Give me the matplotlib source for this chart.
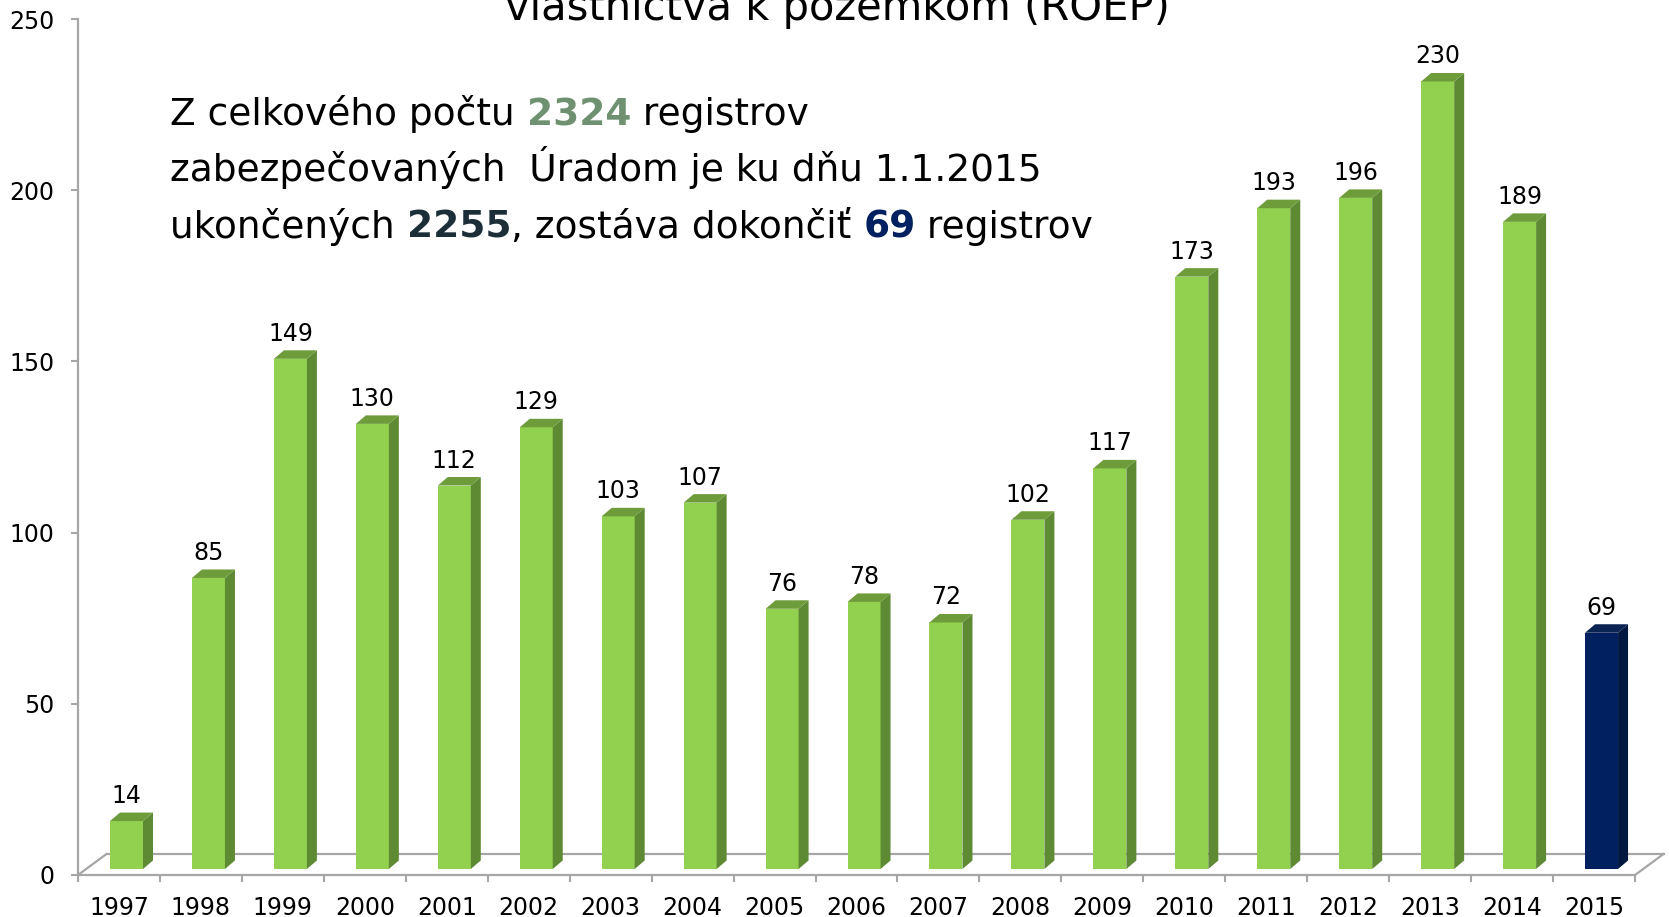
import matplotlib.pyplot as plt
from matplotlib.patches import Polygon

# data
years = ["1997", "1998", "1999", "2000", "2001", "2002", "2003", "2004", "2005", "2006",
         "2007", "2008", "2009", "2010", "2011", "2012", "2013", "2014", "2015"]
values = [14, 85, 149, 130, 112, 129, 103, 107, 76, 78, 72, 102, 117, 173, 193, 196, 230, 189, 69]
y_ticks = [0, 50, 100, 150, 200, 250]

green = ("#92D050", "#5E8A33", "#6E9C3B")   # front, side, top
navy = ("#002060", "#00173F", "#0A2352")
axis_grey = "#A6A6A6"

plt.rcParams['font.family'] = ['DejaVu Sans']

W, H = 1669, 917
fig = plt.figure(figsize=(W / 100, H / 100), dpi=100)
ax = fig.add_axes([78 / W, 1 - 875 / H, (1635 - 78) / W, (875 - 19) / H])
ax.set_xlim(-0.5, len(years) - 0.5)
ax.set_ylim(0, 250)

# pixel -> data unit conversions
px_x = (1635 - 78) / len(years)
px_y = (875 - 19) / 250

for s in ["top", "right"]:
    ax.spines[s].set_visible(False)
for s in ["left", "bottom"]:
    ax.spines[s].set_color(axis_grey)
    ax.spines[s].set_linewidth(1.6)

# floor of the 3d plot
fdx, fdy = 28.5 / px_x, 21 / px_y
x0, x1 = -0.5, len(years) - 0.5
ax.plot([x0 + fdx, x1 + fdx], [fdy, fdy], color=axis_grey, lw=1.6, clip_on=False)
ax.plot([x0, x0 + fdx], [0, fdy], color=axis_grey, lw=1.6, clip_on=False)
ax.plot([x1, x1 + fdx], [0, fdy], color=axis_grey, lw=1.6, clip_on=False)

# bars
bw = 33 / px_x
boff = 32 / px_x
base = 6 / px_y
ddx, ddy = 10 / px_x, 8.5 / px_y
for i, v in enumerate(values):
    front, side, top = navy if years[i] == "2015" else green
    left = i - 0.5 + boff
    right = left + bw
    ax.bar(left, v, width=bw, bottom=base, align="edge", color=front, linewidth=0, zorder=3)
    ax.add_patch(Polygon([(right, base), (right + ddx, base + ddy), (right + ddx, base + v + ddy),
                          (right, base + v)], closed=True, facecolor=side, lw=0, zorder=3))
    ax.add_patch(Polygon([(left, base + v), (right, base + v), (right + ddx, base + v + ddy),
                          (left + ddx, base + v + ddy)], closed=True, facecolor=top, lw=0, zorder=3))
    ax.text(left + bw / 2, base + v + 18 / px_y, str(v), ha="center", va="baseline",
            fontsize=17, color="black", zorder=4)

# axes ticks
ax.set_xticks([i - 0.5 for i in range(len(years) + 1)])
ax.set_xticklabels([])
ax.set_xticks(range(len(years)), minor=True)
ax.set_xticklabels(years, minor=True)
ax.tick_params(axis="x", which="major", length=5, width=1.5, color=axis_grey)
ax.tick_params(axis="x", which="minor", length=0, pad=15, labelsize=17)
ax.set_yticks(y_ticks)
ax.tick_params(axis="y", length=5, width=1.5, color=axis_grey, pad=12, labelsize=17)

# title (partly cut off at the top)
fig.text(837 / W, 1 - 20 / H, "vlastníctva k pozemkom (ROEP)", ha="center", va="baseline",
         fontsize=30, color="black")

# info text with coloured numbers
lines = [
    [("Z celkového počtu ", "black", "normal"), ("2324", "#6F9171", "bold"), (" registrov", "black", "normal")],
    [("zabezpečovaných  Úradom je ku dňu 1.1.2015", "black", "normal")],
    [("ukončených ", "black", "normal"), ("2255", "#1C2E38", "bold"),
     (", zostáva dokončiť ", "black", "normal"), ("69", "#002060", "bold"),
     (" registrov", "black", "normal")],
]
baselines = [125, 181, 238]
for parts, yb in zip(lines, baselines):
    txt, col, wt = parts[0]
    t = fig.text(170 / W, 1 - yb / H, txt, color=col, fontweight=wt, fontsize=27,
                 ha="left", va="baseline")
    for txt, col, wt in parts[1:]:
        t = fig.add_artist(plt.Annotation(txt, xy=(1, 0), xycoords=t, color=col,
                                          fontweight=wt, fontsize=27, ha="left", va="bottom"))

fig.savefig("out.png", dpi=100)
